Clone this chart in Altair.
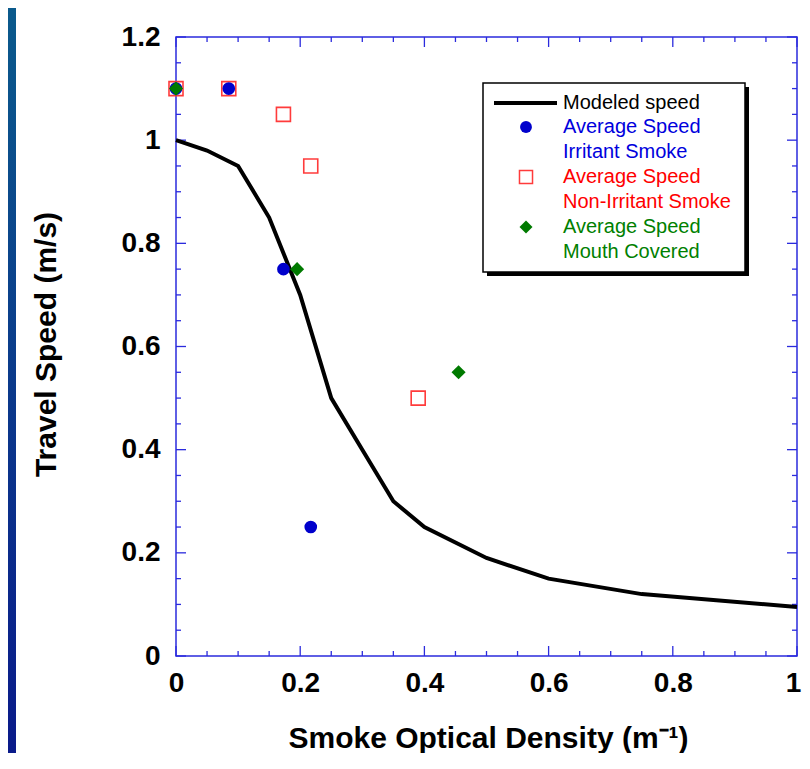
import altair as alt
import pandas as pd

# ---- data ----
model_x = [0, 0.05, 0.1, 0.15, 0.2, 0.25, 0.3, 0.35, 0.4, 0.5, 0.6, 0.75, 1.0]
model_y = [1.0, 0.98, 0.95, 0.85, 0.70, 0.50, 0.40, 0.30, 0.25, 0.19, 0.15, 0.12, 0.095]

irritant_x = [0, 0.085, 0.173, 0.217]
irritant_y = [1.1, 1.1, 0.75, 0.25]

nonirritant_x = [0, 0.085, 0.173, 0.217, 0.39]
nonirritant_y = [1.1, 1.1, 1.05, 0.95, 0.50]

mouth_x = [0, 0.195, 0.455]
mouth_y = [1.1, 0.75, 0.55]

x_ticks = [0, 0.2, 0.4, 0.6, 0.8, 1.0]
y_ticks = [0, 0.2, 0.4, 0.6, 0.8, 1.0, 1.2]

legend_lines = [
    ("Modeled speed", "black"),
    ("Average Speed", "#0000dd"),
    ("Irritant Smoke", "#0000dd"),
    ("Average Speed", "#ff0000"),
    ("Non-Irritant Smoke", "#ff0000"),
    ("Average Speed", "#008000"),
    ("Mouth Covered", "#008000"),
]

W, H = 621, 619
FONT = "Liberation Sans"
AXC = "#2b2bdd"

xs = alt.Scale(domain=[0, 1], nice=False)
ys = alt.Scale(domain=[0, 1.2], nice=False)

model = pd.DataFrame({"x": model_x, "y": model_y})
irr = pd.DataFrame({"x": irritant_x, "y": irritant_y})
non = pd.DataFrame({"x": nonirritant_x, "y": nonirritant_y})
mou = pd.DataFrame({"x": mouth_x, "y": mouth_y})

xaxis = alt.Axis(
    values=x_ticks, format="~g", domain=False, ticks=False, grid=False,
    labelFont=FONT, labelFontSize=28, labelFontWeight="bold", labelColor="black",
    labelPadding=13, labelFlush=False, labelOverlap=False,
    labelOffset={"condition": {"test": "datum.value >= 1", "value": -4}, "value": 0},
    title="Smoke Optical Density (m\u207b\u00b9)", titleFont=FONT, titleFontSize=30,
    titleFontWeight="bold", titleColor="black", titleX=312, titleY=91,
    titleAlign="center", titleBaseline="alphabetic",
)
yaxis = alt.Axis(
    values=y_ticks, format="~g", domain=False, ticks=False, grid=False,
    labelFont=FONT, labelFontSize=28, labelFontWeight="bold", labelColor="black",
    labelPadding=16, labelFlush=False, labelOverlap=False,
    title="Travel Speed (m/s)", titleFont=FONT, titleFontSize=30,
    titleFontWeight="bold", titleColor="black", titleX=-130, titleY=307,
    titleAlign="center", titleBaseline="middle", titleAngle=270,
)

line = alt.Chart(model).mark_line(color="black", strokeWidth=4, strokeJoin="miter").encode(
    x=alt.X("x:Q", scale=xs, axis=xaxis),
    y=alt.Y("y:Q", scale=ys, axis=yaxis),
)

squares = alt.Chart(non).mark_point(
    shape="square", filled=False, color="#ff3b3b", size=196, strokeWidth=1.6, opacity=1
).encode(x=alt.X("x:Q", scale=xs), y=alt.Y("y:Q", scale=ys))

circles = alt.Chart(irr).mark_point(
    shape="circle", filled=True, color="#0000cc", size=160, opacity=1
).encode(x=alt.X("x:Q", scale=xs), y=alt.Y("y:Q", scale=ys))

diamonds = alt.Chart(mou).mark_point(
    shape="diamond", filled=True, color="#007a00", size=200, opacity=1
).encode(x=alt.X("x:Q", scale=xs), y=alt.Y("y:Q", scale=ys))

# ---- inward tick marks on all four sides ----
step = 0.05
xt = pd.DataFrame({"v": [round(i * step, 2) for i in range(21)]})
yt = pd.DataFrame({"v": [round(i * step, 2) for i in range(25)]})
xt["major"] = xt["v"].apply(lambda v: abs(v / 0.2 - round(v / 0.2)) < 1e-6)
yt["major"] = yt["v"].apply(lambda v: abs(v / 0.2 - round(v / 0.2)) < 1e-6)

tick_layers = []
for major, ln in [(True, 10), (False, 5)]:
    xd = xt[xt["major"] == major]
    yd = yt[yt["major"] == major]
    tick_layers.append(alt.Chart(xd).mark_rule(color=AXC, strokeWidth=1.3).encode(
        x=alt.X("v:Q", scale=xs), y=alt.value(H), y2=alt.value(H - ln)))
    tick_layers.append(alt.Chart(xd).mark_rule(color=AXC, strokeWidth=1.3).encode(
        x=alt.X("v:Q", scale=xs), y=alt.value(0), y2=alt.value(ln)))
    tick_layers.append(alt.Chart(yd).mark_rule(color=AXC, strokeWidth=1.3).encode(
        y=alt.Y("v:Q", scale=ys), x=alt.value(0), x2=alt.value(ln)))
    tick_layers.append(alt.Chart(yd).mark_rule(color=AXC, strokeWidth=1.3).encode(
        y=alt.Y("v:Q", scale=ys), x=alt.value(W), x2=alt.value(W - ln)))

one = pd.DataFrame({"a": [0]})

# left blue strip (slide background)
strip = alt.Chart(one).mark_rect(
    color=alt.Gradient(gradient="linear", x1=0, x2=0, y1=0, y2=1,
                       stops=[alt.GradientStop(color="#0b5a8c", offset=0),
                              alt.GradientStop(color="#0a1a8a", offset=1)])
).encode(x=alt.value(-168), x2=alt.value(-160), y=alt.value(-29), y2=alt.value(H + 100))

# ---- legend box ----
LX0, LX1, LY0, LY1 = 307, 569, 46, 235
shadow = alt.Chart(one).mark_rect(color="black").encode(
    x=alt.value(LX0 + 4), x2=alt.value(LX1 + 4), y=alt.value(LY0 + 4), y2=alt.value(LY1 + 4))
box = alt.Chart(one).mark_rect(fill="white", stroke="black", strokeWidth=1.5).encode(
    x=alt.value(LX0), x2=alt.value(LX1), y=alt.value(LY0), y2=alt.value(LY1))

leg_line = alt.Chart(one).mark_rule(color="black", strokeWidth=4).encode(
    x=alt.value(318), x2=alt.value(381), y=alt.value(66))
row_y = [66, 90, 115, 140, 165, 190, 215]
leg_circle = alt.Chart(one).mark_point(shape="circle", filled=True, color="#0000cc",
                                       size=140, opacity=1).encode(
    x=alt.value(350), y=alt.value(row_y[1]))
leg_square = alt.Chart(one).mark_point(shape="square", filled=False, color="#ff3b3b",
                                       size=170, strokeWidth=1.5, opacity=1).encode(
    x=alt.value(350), y=alt.value(row_y[3]))
leg_diamond = alt.Chart(one).mark_point(shape="diamond", filled=True, color="#007a00",
                                        size=170, opacity=1).encode(
    x=alt.value(350), y=alt.value(row_y[5]))

leg_texts = []
for (txt, col), yy in zip(legend_lines, row_y):
    leg_texts.append(alt.Chart(one).mark_text(
        text=txt, color=col, font=FONT, fontSize=20, align="left", baseline="middle"
    ).encode(x=alt.value(387), y=alt.value(yy)))

chart = alt.layer(
    strip, *tick_layers, line, squares, circles, diamonds,
    shadow, box, leg_line, leg_circle, leg_square, leg_diamond, *leg_texts
).properties(
    width=W, height=H,
    autosize=alt.AutoSizeParams(type="none"),
    padding={"left": 168, "top": 29, "right": 5, "bottom": 97},
    background="white",
).configure_view(stroke=AXC, strokeWidth=1.5)

chart.save("out.html", embed_options={"renderer": "svg", "actions": False})
